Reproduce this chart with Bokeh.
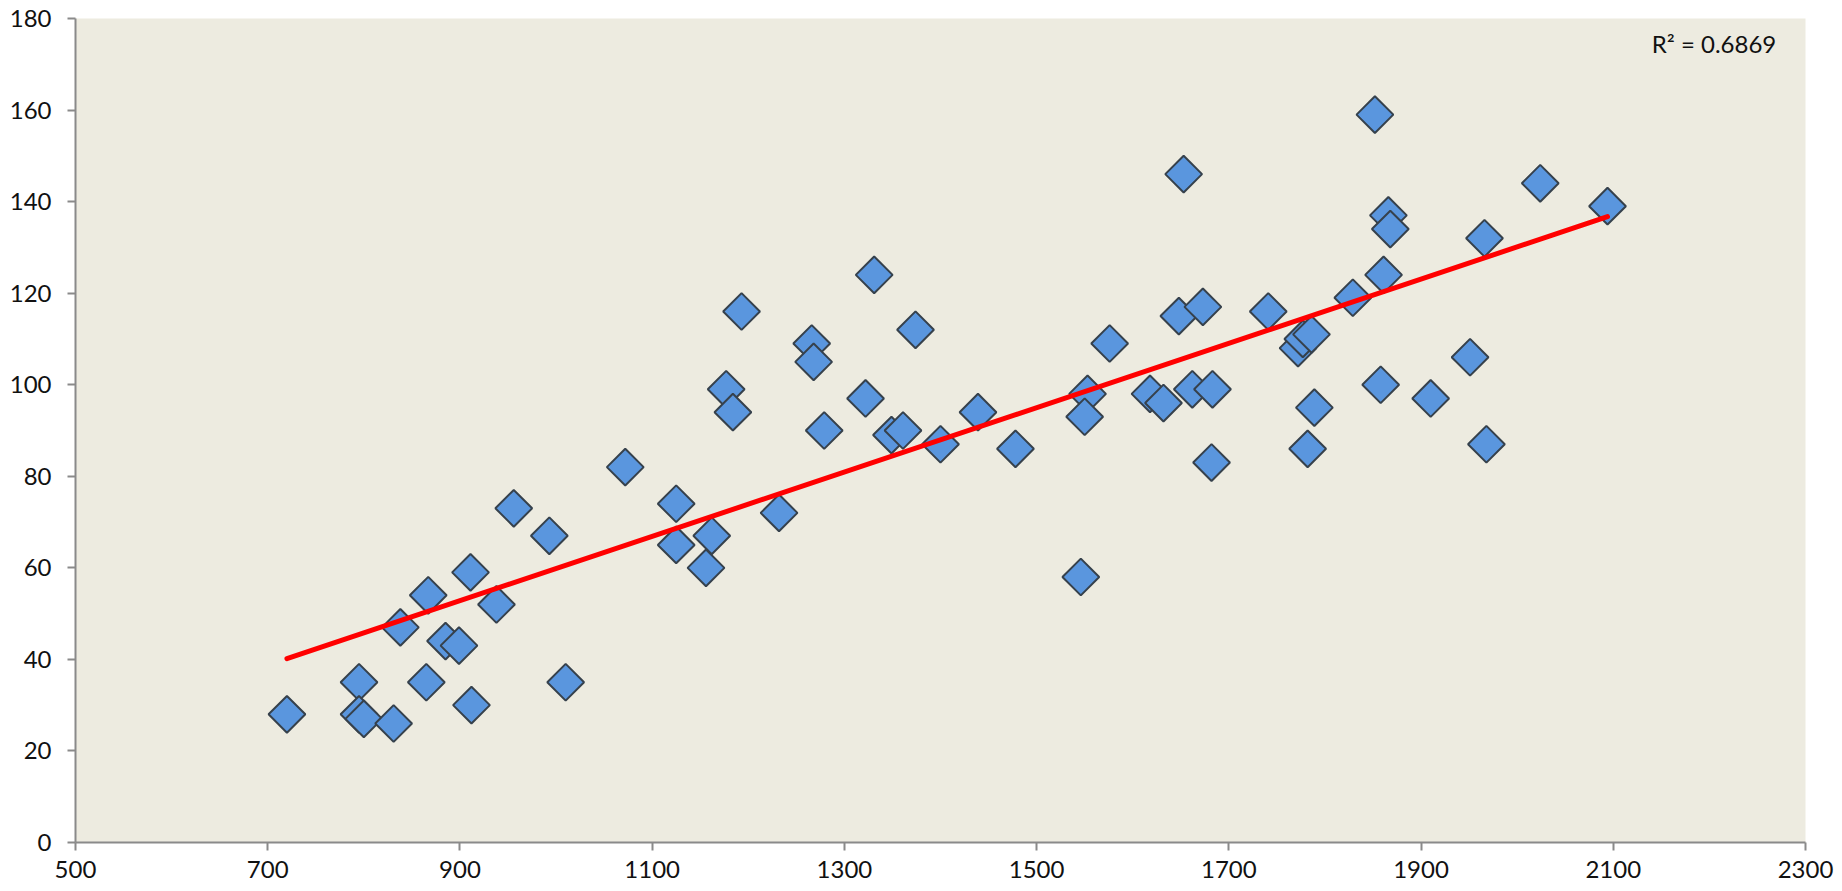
import numpy as np
from bokeh.plotting import figure
from bokeh.models import ColumnDataSource, Label, FixedTicker
from bokeh.embed import file_html
from bokeh.resources import INLINE

# Data
x_vals = [720, 795, 795, 800, 831, 838, 867, 865, 885, 899, 911, 912, 938, 956, 993, 1010,
          1072, 1125, 1125, 1162, 1156, 1232, 1193, 1177, 1184, 1266, 1268, 1279, 1331, 1374,
          1322, 1349, 1361, 1400, 1439, 1478, 1553, 1550, 1576, 1546, 1618, 1632, 1648, 1673,
          1662, 1683, 1682, 1653, 1741, 1772, 1777, 1786, 1829, 1861, 1789, 1782, 1858, 1910,
          1951, 1968, 1852, 1866, 1868, 1966, 2024, 2094]
y_vals = [28, 35, 28, 27, 26, 47, 54, 35, 44, 43, 59, 30, 52, 73, 67, 35,
          82, 74, 65, 67, 60, 72, 116, 99, 94, 109, 105, 90, 124, 112,
          97, 89, 90, 87, 94, 86, 98, 93, 109, 58, 98, 96, 115, 117,
          99, 99, 83, 146, 116, 108, 110, 111, 119, 124, 95, 86, 100, 97,
          106, 87, 159, 137, 134, 132, 144, 139]
x_ticks = [500, 700, 900, 1100, 1300, 1500, 1700, 1900, 2100, 2300]
y_ticks = [0, 20, 40, 60, 80, 100, 120, 140, 160, 180]
r2_text = "R² = 0.6869"

FONT = "Lato"
AXIS_COLOR = "#8a8a8a"

p = figure(width=1836, height=889, output_backend="svg", toolbar_location=None,
           x_range=(500, 2300), y_range=(0, 180),
           min_border_left=75, min_border_top=18, min_border_right=31, min_border_bottom=47)
p.background_fill_color = "#EDEBE0"
p.border_fill_color = "white"
p.outline_line_color = None
p.grid.visible = False

for ax in (p.xaxis[0], p.yaxis[0]):
    ax.axis_line_color = AXIS_COLOR
    ax.axis_line_width = 2
    ax.major_tick_line_color = AXIS_COLOR
    ax.major_tick_line_width = 2
    ax.major_tick_out = 8
    ax.major_tick_in = 0
    ax.minor_tick_line_color = None
    ax.major_label_text_font = FONT
    ax.major_label_text_font_size = "24px"
    ax.major_label_text_color = "#111111"

p.xaxis[0].ticker = FixedTicker(ticks=x_ticks)
p.yaxis[0].ticker = FixedTicker(ticks=y_ticks)
p.xaxis[0].major_label_standoff = 10
p.yaxis[0].major_label_standoff = 16

# Trend line (least squares) spanning the data range
slope, intercept = np.polyfit(x_vals, y_vals, 1)
xs = [min(x_vals), max(x_vals)]
ys = [slope * v + intercept for v in xs]

src = ColumnDataSource(dict(x=x_vals, y=y_vals))
p.scatter("x", "y", source=src, marker="square", size=26, angle=np.pi / 4,
          fill_color="#5A96DE", line_color="#36414C", line_width=2)
p.line(xs, ys, line_color="#FF0000", line_width=5, line_cap="round")

p.add_layout(Label(x=2140, y=174.5, text=r2_text,
                   text_font=FONT, text_font_size="24px", text_color="#111111",
                   text_baseline="middle", text_align="left"))

open("out.html", "w").write(file_html(p, INLINE))
